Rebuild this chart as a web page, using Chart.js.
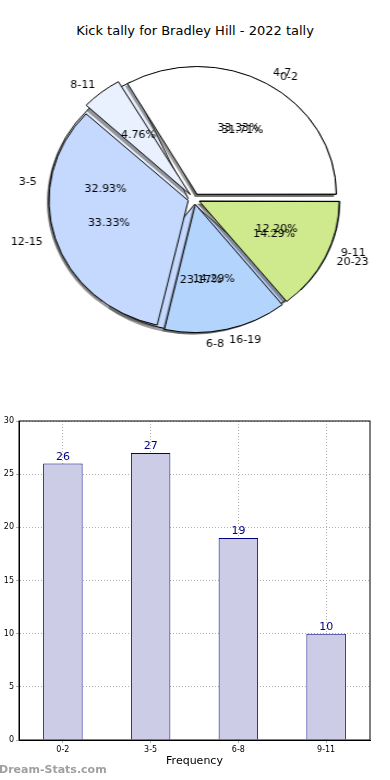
<!DOCTYPE html>
<html>
<head>
<meta charset="utf-8">
<script src="https://cdn.jsdelivr.net/npm/chart.js@4.4.1/dist/chart.umd.min.js"></script>
<style>
html, body { margin: 0; padding: 0; background: #fff; width: 390px; height: 780px; overflow: hidden; font-family: "DejaVu Sans", sans-serif; }
#titel { position: absolute; left: 0; top: 23px; width: 390px; text-align: center; font-size: 13px; color: #000; }
#taart { position: absolute; left: 0; top: 0; width: 390px; height: 390px; transform: scaleX(1.09); transform-origin: 194px 199px; }
#taart canvas { position: absolute; left: 0; top: 0; }
#staaf { position: absolute; left: -20px; top: 395px; }
#merk { position: absolute; left: -1px; top: 763px; font-size: 11px; font-weight: bold; color: #a0a0a0; }
</style>
</head>
<body>
<div id="titel">Kick tally for Bradley Hill - 2022 tally</div>
<div id="taart">
  <canvas id="onderTaart" width="390" height="390"></canvas>
  <canvas id="bovenTaart" width="390" height="390"></canvas>
</div>
<canvas id="staaf" width="410" height="385"></canvas>
<div id="merk">Dream-Stats.com</div>
<script>
// tally per minute class (bottom pie + bars)
const klassen = ["0-2", "3-5", "6-8", "9-11"];
const tallies = [26, 27, 19, 10];

// second tally (top pie)
const klassen2 = ["4-7", "8-11", "12-15", "16-19", "20-23"];
const tallies2 = [7, 1, 7, 3, 3];

const kleuren = ["#ffffff", "#eaf1fe", "#c5d9fe", "#b3d4fc", "#cfea8c"];

const STRETCH = 1.09;
let onder = null;

// matplotlib-like shadow: only the wedge shapes, drawn below the wedges
const schaduw = {
    id: 'schaduw',
    beforeDatasetsDraw(chart) {
        const ctx = chart.ctx;
        ctx.save();
        ctx.fillStyle = 'rgba(60,60,60,0.5)';
        chart.getDatasetMeta(0).data.forEach(arc => {
            const p = arc.getProps(['x', 'y', 'startAngle', 'endAngle', 'outerRadius'], true);
            const mid = (p.startAngle + p.endAngle) / 2;
            const off = (arc.options.offset || 0) / 4;
            const cx = p.x + Math.cos(mid) * off - 2;
            const cy = p.y + Math.sin(mid) * off + 2.5;
            ctx.beginPath();
            ctx.moveTo(cx, cy);
            ctx.arc(cx, cy, p.outerRadius + 0.5, p.startAngle, p.endAngle);
            ctx.closePath();
            ctx.fill();
        });
        ctx.restore();
    }
};

function tekst(ctx, s, x, y, align) {
    ctx.save();
    ctx.translate(x, y);
    ctx.scale(1 / STRETCH, 1);
    ctx.textAlign = align;
    ctx.textBaseline = 'middle';
    ctx.fillText(s, 0, 0);
    ctx.restore();
}

// labels of both pies go on top of everything
const taartLabels = {
    id: 'taartLabels',
    afterDraw(chart) {
        const ctx = chart.ctx;
        ctx.save();
        ctx.font = '11px "DejaVu Sans"';
        ctx.fillStyle = '#000';
        [onder, chart].forEach(t => {
            const meta = t.getDatasetMeta(0);
            const waarden = t.data.datasets[0].data;
            const som = waarden.reduce((a, b) => a + b, 0);
            meta.data.forEach((arc, i) => {
                const p = arc.getProps(['x', 'y', 'startAngle', 'endAngle', 'outerRadius'], true);
                const mid = (p.startAngle + p.endAngle) / 2;
                const off = (arc.options.offset || 0) / 4;
                const cx = Math.cos(mid), cy = Math.sin(mid);
                const lr = 1.1 * p.outerRadius + off;
                tekst(ctx, t.data.labels[i], p.x + cx * lr, p.y + cy * lr, cx >= 0 ? 'left' : 'right');
                const pr = 0.6 * p.outerRadius + off;
                tekst(ctx, (waarden[i] / som * 100).toFixed(2) + '%', p.x + cx * pr, p.y + cy * pr, 'center');
            });
        });
        ctx.restore();
    }
};

function taartConfig(labels, waarden, extra) {
    return {
        type: 'pie',
        data: {
            labels: [...labels].reverse(),
            datasets: [{
                data: [...waarden].reverse(),
                backgroundColor: kleuren.slice(0, labels.length).reverse(),
                borderColor: '#000',
                borderWidth: 1,
                offset: 22,
                hoverOffset: 22
            }]
        },
        options: {
            responsive: false,
            animation: false,
            events: [],
            rotation: 90,
            layout: { padding: { left: 55.5, right: 57.5, top: 60.5, bottom: 52.5 } },
            plugins: { legend: { display: false }, tooltip: { enabled: false } }
        },
        plugins: extra
    };
}

onder = new Chart(document.getElementById('onderTaart'), taartConfig(klassen, tallies, [schaduw]));
new Chart(document.getElementById('bovenTaart'), taartConfig(klassen2, tallies2, [schaduw, taartLabels]));

const kader = {
    id: 'kader',
    afterDraw(chart) {
        const { left, top, width, height } = chart.chartArea;
        const ctx = chart.ctx;
        ctx.save();
        ctx.strokeStyle = '#000';
        ctx.lineWidth = 1;
        ctx.strokeRect(left, top, width, height);
        ctx.restore();
    }
};

const waardeLabels = {
    id: 'waardeLabels',
    afterDatasetsDraw(chart) {
        const ctx = chart.ctx;
        ctx.save();
        ctx.font = '11px "DejaVu Sans"';
        ctx.fillStyle = '#000080';
        ctx.textAlign = 'center';
        ctx.textBaseline = 'bottom';
        chart.getDatasetMeta(0).data.forEach((bar, i) => {
            ctx.fillText(String(chart.data.datasets[0].data[i]), bar.x, bar.y - 1);
        });
        ctx.restore();
    }
};

new Chart(document.getElementById('staaf'), {
    type: 'bar',
    data: {
        labels: klassen,
        datasets: [{
            data: tallies,
            backgroundColor: '#cccce6',
            borderColor: '#000080',
            borderWidth: 1,
            barPercentage: 0.45,
            categoryPercentage: 1
        }]
    },
    options: {
        responsive: false,
        animation: false,
        events: [],
        layout: { padding: { left: 0, right: 20, top: 26, bottom: 12 } },
        plugins: { legend: { display: false }, tooltip: { enabled: false } },
        scales: {
            x: {
                z: 1,
                grid: { offset: false, color: '#b0b0b0', tickLength: 3 },
                border: { color: '#000', width: 1, dash: [1, 2] },
                ticks: { color: '#000', font: { family: 'DejaVu Sans', size: 8 }, padding: 2 },
                title: { display: true, text: 'Frequency', color: '#000', font: { family: 'DejaVu Sans', size: 11 }, padding: { top: 1, bottom: 0 } },
                afterFit(s) { s.height = 28; }
            },
            y: {
                z: 1,
                min: 0, max: 30,
                grid: { color: '#b0b0b0', tickLength: 3 },
                border: { color: '#000', width: 1, dash: [1, 2] },
                ticks: { stepSize: 5, color: '#000', font: { family: 'DejaVu Sans', size: 8 }, padding: 2 },
                title: { display: true, text: 'Kick Tally', color: '#000', font: { family: 'DejaVu Sans', size: 11 }, padding: { top: 8, bottom: 0 } },
                afterFit(s) { s.width = 39; }
            }
        }
    },
    plugins: [waardeLabels, kader]
});
</script>
</body>
</html>
